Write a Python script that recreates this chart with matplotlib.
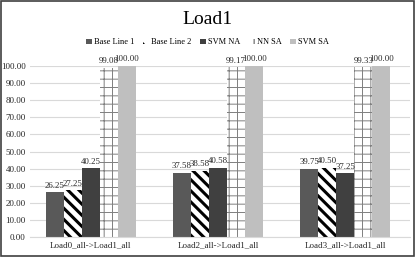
import numpy as np
import matplotlib
matplotlib.use('Agg')
from matplotlib import pyplot as plt

plt.rcParams['font.family'] = ['Liberation Serif', 'DejaVu Serif']

# data
categories = ['Load0_all->Load1_all', 'Load2_all->Load1_all', 'Load3_all->Load1_all']
series_names = ['Base Line 1', 'Base Line 2', 'SVM NA', 'NN SA', 'SVM SA']
base_line_1 = [26.25, 37.58, 39.75]
base_line_2 = [27.25, 38.58, 40.50]
svm_na = [40.25, 40.58, 37.25]
nn_sa = [99.08, 99.17, 99.33]
svm_sa = [100.00, 100.00, 100.00]
y_ticks = np.arange(0, 101, 10)

values = [base_line_1, base_line_2, svm_na, nn_sa, svm_sa]
styles = [
    dict(color='#595959', edgecolor='#595959', linewidth=0),
    dict(color='white', edgecolor='black', hatch='\\\\\\', linewidth=0),
    dict(color='#404040', edgecolor='#404040', linewidth=0),
    dict(color='white', edgecolor='#7f7f7f', hatch='++', linewidth=0),
    dict(color='#bfbfbf', edgecolor='#bfbfbf', linewidth=0),
]
hatch_lw = [1.0, 2.2, 1.0, 0.7, 1.0]

fig = plt.figure(figsize=(4.15, 2.57), dpi=100)
ax = fig.add_axes([0.072, 0.078, 0.916, 0.665])

x = np.arange(len(categories))
width = 0.142
for i, (vals, st) in enumerate(zip(values, styles)):
    pos = x + (i - 2) * width
    with plt.rc_context({'hatch.linewidth': hatch_lw[i]}):
        bars = ax.bar(pos, vals, width=width, label=series_names[i], zorder=2, **st)
    for b, v in zip(bars, vals):
        ax.text(b.get_x() + b.get_width() / 2, v + 1.5, '%.2f' % v,
                ha='center', va='bottom', fontsize=6.3, color='#262626')

ax.set_ylim(0, 100)
ax.set_xlim(-0.48, 2.51)
ax.set_yticks(y_ticks)
ax.set_yticklabels(['%.2f' % t for t in y_ticks], fontsize=6.5, color='#262626')
ax.set_xticks(x)
ax.set_xticklabels(categories, fontsize=6.5, color='#262626')
ax.tick_params(length=0, pad=3)
ax.grid(axis='y', color='#d9d9d9', linewidth=0.8, zorder=0)
ax.set_axisbelow(True)
for s in ['top', 'right', 'left']:
    ax.spines[s].set_visible(False)
ax.spines['bottom'].set_color('#d9d9d9')

fig.text(0.5, 0.925, 'Load1', ha='center', va='center', fontsize=14)
fig.legend(loc='center', bbox_to_anchor=(0.5, 0.835), ncol=5, frameon=False,
           fontsize=6, handlelength=0.7, handleheight=0.7, handletextpad=0.2,
           columnspacing=1.1)

# outer border
fig.patches.append(plt.Rectangle((0.002, 0.003), 0.995, 0.993, transform=fig.transFigure,
                                 fill=False, edgecolor='#404040', linewidth=1.2))

fig.savefig('out.png', dpi=100)
